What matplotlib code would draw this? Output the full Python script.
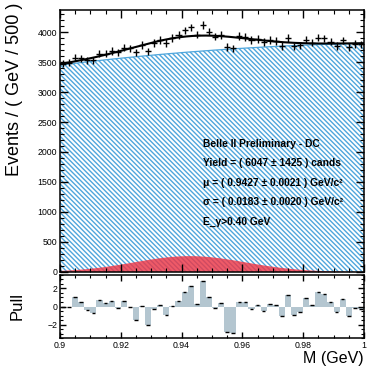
import numpy as np
import matplotlib.pyplot as plt
from matplotlib.ticker import MultipleLocator

plt.rcParams.update({
    "font.family": ["Liberation Sans", "DejaVu Sans"],
    "hatch.linewidth": 1.0,
    "axes.linewidth": 1.1,
})

# ── binning / data ──
x_lo, x_hi, n_bins = 0.9, 1.0, 50
counts = [3470, 3488, 3571, 3562, 3528, 3532, 3642, 3642, 3686, 3661,
          3740, 3727, 3662, 3784, 3681, 3814, 3868, 3818, 3902, 3952,
          4028, 4078, 3958, 4117, 4007, 3924, 3954, 3748, 3731, 3938,
          3920, 3865, 3882, 3831, 3865, 3849, 3770, 3904, 3761, 3779,
          3872, 3822, 3908, 3895, 3839, 3769, 3860, 3749, 3800, 3794]
pulls = [-0.1, -0.1, 1.0, 0.5, -0.4, -0.7, 0.75, 0.35, 0.65, -0.2,
         0.65, 0.0, -1.5, 0.05, -2.05, -0.3, 0.2, -0.95, 0.1, 0.65,
         1.65, 2.3, 0.3, 2.8, 1.05, -0.2, 0.35, -2.8, -2.9, 0.55,
         0.45, -0.25, 0.2, -0.45, 0.25, 0.15, -1.0, 1.25, -0.95, -0.6,
         0.95, 0.2, 1.6, 1.4, 0.5, -0.65, 0.8, -1.0, -0.2, -0.3]

# fit result (signal gaussian + quadratic background in t = M - 0.9)
yield_sig, mu, sigma = 6047, 0.9427, 0.0183
bkg_coef = [3450, 6206, -25860]

info = ["Belle II Preliminary - DC",
        "Yield = ( 6047 \u00b1 1425 ) cands",
        "\u03bc = ( 0.9427 \u00b1 0.0021 ) GeV/c\u00b2",
        "\u03c3 = ( 0.0183 \u00b1 0.0020 ) GeV/c\u00b2",
        "E_\u03b3>0.40 GeV"]

bw = (x_hi - x_lo) / n_bins
centers = x_lo + bw * (np.arange(n_bins) + 0.5)
counts = np.array(counts, dtype=float)

xf = np.linspace(x_lo, x_hi, 500)
tf = xf - x_lo
bkg = bkg_coef[0] + bkg_coef[1] * tf + bkg_coef[2] * tf ** 2
amp = yield_sig * bw / (np.sqrt(2 * np.pi) * sigma)
sig = amp * np.exp(-0.5 * ((xf - mu) / sigma) ** 2)

blue = "#4fa6dc"
red = "#ec3646"

fig = plt.figure(figsize=(3.68, 3.67), dpi=100)
ax = fig.add_axes([0.163, 0.259, 0.826, 0.715])
axp = fig.add_axes([0.163, 0.0777, 0.826, 0.174])

# main pad
ax.fill_between(xf, 0, bkg, facecolor="white", edgecolor=blue,
                hatch="\\\\\\\\\\\\\\", linewidth=0)
ax.fill_between(xf, 0, sig, facecolor=red, alpha=0.82, linewidth=0)
ax.plot(xf, bkg, color=blue, lw=0.9)
ax.plot(xf, bkg + sig, color="black", lw=1.5)
ax.errorbar(centers, counts, yerr=np.sqrt(counts), xerr=bw / 2,
            fmt="none", ecolor="black", elinewidth=1.0)

ax.set_xlim(x_lo, x_hi)
ax.set_ylim(0, 4375)
ax.yaxis.set_major_locator(MultipleLocator(500))
ax.yaxis.set_minor_locator(MultipleLocator(100))
ax.xaxis.set_major_locator(MultipleLocator(0.02))
ax.xaxis.set_minor_locator(MultipleLocator(0.005))
ax.tick_params(which="both", direction="in", top=True, right=True,
               labelsize=6.3, pad=2)
ax.tick_params(which="major", length=5.5, width=1)
ax.tick_params(which="minor", length=3, width=0.8)
ax.tick_params(axis="x", labelbottom=False)
fig.text(15 / 368, 1 - 3 / 367, "Events / ( GeV / 500 )", rotation=90,
         fontsize=13, ha="center", va="top")

for i, line in enumerate(info):
    ax.text(0.47, 0.488 - i * 0.0743, line, transform=ax.transAxes,
            fontsize=7.4, fontweight="bold", va="center", ha="left")

# pull pad
axp.bar(centers, pulls, width=bw, color="#b4c6d0", linewidth=0)
axp.errorbar(centers, pulls, xerr=bw * 0.3, fmt="none", ecolor="black",
             elinewidth=1.0)
axp.set_xlim(x_lo, x_hi)
axp.set_ylim(-3.5, 3.5)
axp.set_yticks([-2, 0, 2])
axp.set_yticklabels(["\u22122", "0", "2"])
axp.yaxis.set_minor_locator(MultipleLocator(0.5))
axp.set_xticks([0.9, 0.92, 0.94, 0.96, 0.98, 1.0])
axp.set_xticklabels(["0.9", "0.92", "0.94", "0.96", "0.98", "1"])
axp.xaxis.set_minor_locator(MultipleLocator(0.005))
axp.tick_params(which="both", direction="in", top=True, right=True,
                labelsize=6.3, pad=2)
axp.tick_params(which="major", length=4.5, width=1)
axp.tick_params(which="minor", length=2.5, width=0.8)
fig.text(17 / 368, 1 - 306 / 367, "Pull", rotation=90,
         fontsize=12, ha="center", va="center")
axp.text(1.0, -0.31, "M (GeV)", transform=axp.transAxes,
         fontsize=11.5, ha="right", va="center")

fig.savefig("out.png", dpi=100)
